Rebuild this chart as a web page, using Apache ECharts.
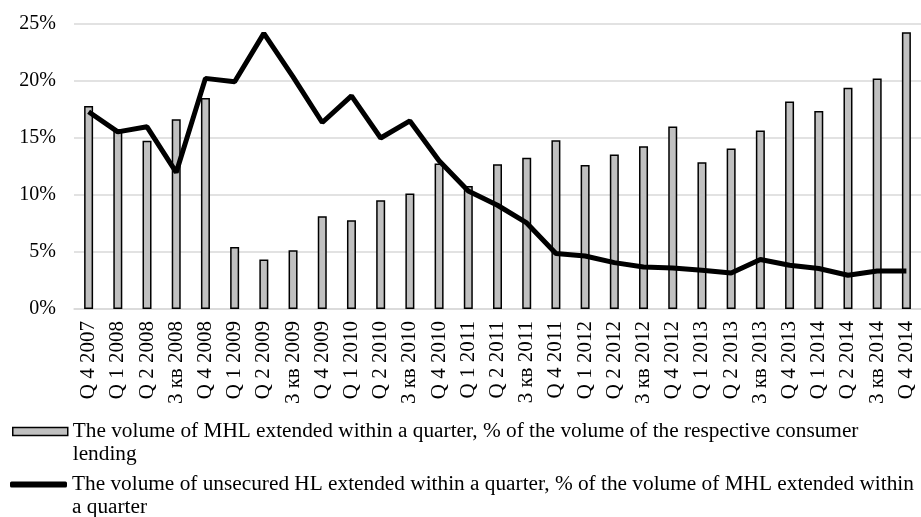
<!DOCTYPE html>
<html>
<head>
<meta charset="utf-8">
<script src="https://cdn.jsdelivr.net/npm/echarts@6/dist/echarts.min.js"></script>
<style>html,body{margin:0;padding:0;background:#fff}#c{width:921px;height:517px}</style>
</head>
<body>
<div id="c"></div>
<script>
const categories = ['Q 4 2007','Q 1 2008','Q 2 2008','3 кв 2008','Q 4 2008','Q 1 2009','Q 2 2009','3 кв 2009','Q 4 2009','Q 1 2010','Q 2 2010','3 кв 2010','Q 4 2010','Q 1 2011','Q 2 2011','3 кв 2011','Q 4 2011','Q 1 2012','Q 2 2012','3 кв 2012','Q 4 2012','Q 1 2013','Q 2 2013','3 кв 2013','Q 4 2013','Q 1 2014','Q 2 2014','3 кв 2014','Q 4 2014'];
const mhlShare = [17.8,15.8,14.75,16.65,18.5,5.44,4.34,5.15,8.14,7.79,9.54,10.13,12.77,10.8,12.7,13.26,14.81,12.64,13.56,14.28,16.01,12.88,14.08,15.66,18.2,17.36,19.4,20.23,24.27];
const unsecuredShare = [17.3,15.54,15.98,11.98,20.23,19.93,24.18,20.37,16.36,18.7,15.0,16.5,13.0,10.36,9.1,7.55,4.86,4.65,4.07,3.69,3.6,3.4,3.16,4.34,3.84,3.55,2.96,3.34,3.34];
const yTicks = [0,5,10,15,20,25];
const seriesNames = [
  'The volume of MHL extended within a quarter, % of the volume of the respective consumer',
  'The volume of unsecured HL extended within a quarter, % of the volume of MHL extended within'
];
const legendSecondLines = ['lending','a quarter'];

const font = 'Liberation Serif, Times New Roman, serif';
const chart = echarts.init(document.getElementById('c'), null, {renderer:'canvas'});
chart.setOption({
  animation:false,
  backgroundColor:'#fff',
  grid:{left:74, top:24, width:852, height:285, containLabel:false},
  xAxis:{
    type:'category', data:categories,
    axisLine:{show:true, lineStyle:{color:'#d9d9d9', width:1.5}},
    axisTick:{show:false},
    axisLabel:{rotate:90, margin:12, color:'#000', fontFamily:font, fontSize:21, interval:0}
  },
  yAxis:{
    type:'value', min:yTicks[0], max:yTicks[yTicks.length-1], interval:5,
    axisLine:{show:false}, axisTick:{show:false},
    splitLine:{lineStyle:{color:'#d9d9d9', width:1.5}},
    axisLabel:{formatter:'{value}%', margin:18, color:'#000', fontFamily:font, fontSize:20}
  },
  legend:[
    {
      left:12, top:397, padding:0, itemWidth:55, itemHeight:8, selectedMode:false,
      data:[{name:seriesNames[0], icon:'rect', itemStyle:{color:'#c0c0c0', borderColor:'#000', borderWidth:1.5}}],
      formatter: n => '\n' + n + '\n' + legendSecondLines[0],
      textStyle:{color:'#000', fontFamily:font, fontSize:21.3, lineHeight:23}
    },
    {
      left:10, top:450, padding:0, itemWidth:57, itemHeight:6, selectedMode:false,
      data:[{name:seriesNames[1], icon:'roundRect', itemStyle:{color:'#000', borderWidth:0}}],
      formatter: n => '\n' + n + '\n' + legendSecondLines[1],
      textStyle:{color:'#000', fontFamily:font, fontSize:21.3, lineHeight:23}
    }
  ],
  series:[
    {
      name:seriesNames[0], type:'bar', data:mhlShare, barWidth:9,
      itemStyle:{color:'#c0c0c0', borderColor:'#000', borderWidth:1.5}
    },
    {
      name:seriesNames[1], type:'line', data:unsecuredShare, symbol:'none',
      lineStyle:{color:'#000', width:5}, itemStyle:{color:'#000'}
    }
  ]
});
</script>
</body>
</html>
